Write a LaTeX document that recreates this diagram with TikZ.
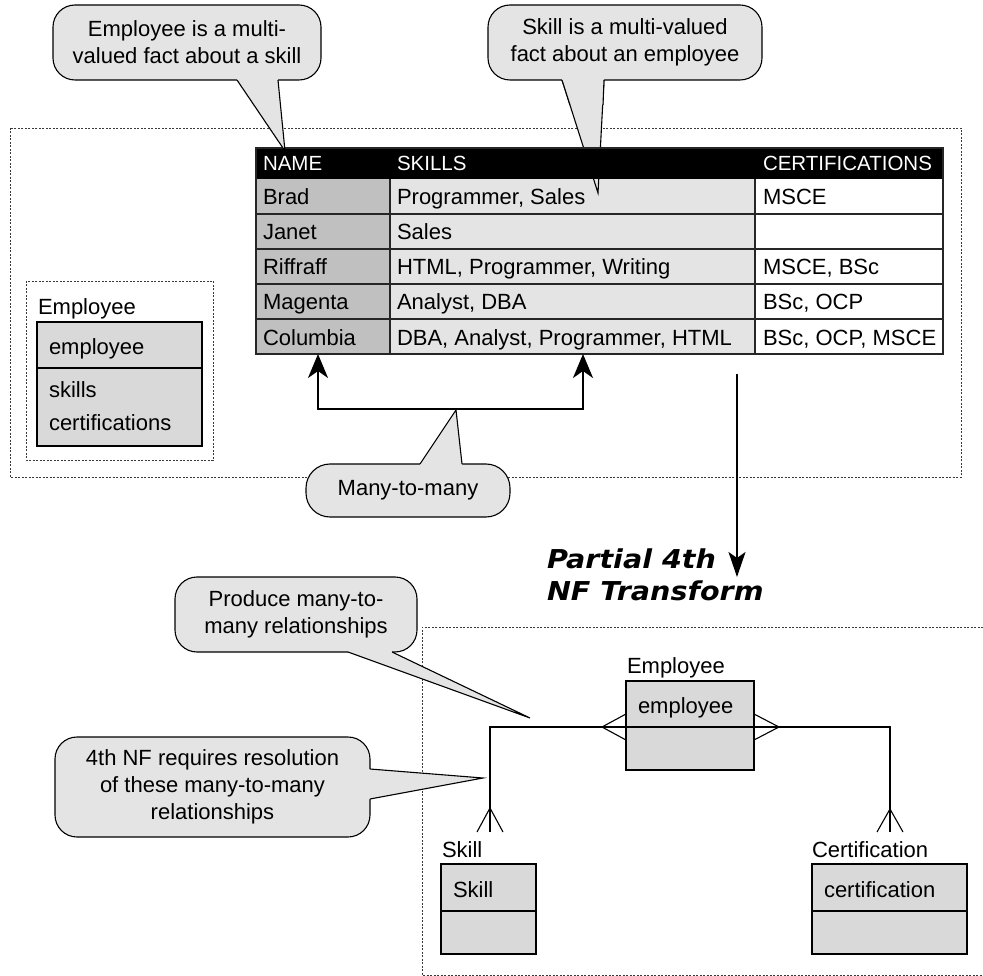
\documentclass[tikz,border=0pt]{standalone}
\usepackage{fontspec}
\setmainfont{Liberation Sans}
\newfontfamily\titlefont{DejaVu Sans}
\usetikzlibrary{arrows.meta}
\definecolor{callfill}{HTML}{E4E4E4}
\definecolor{namefill}{HTML}{C0C0C0}
\definecolor{erfill}{HTML}{D9D9D9}
\definecolor{dotc}{HTML}{3A3A3A}
\begin{document}
\begin{tikzpicture}[x=1pt,y=-1pt,
  every node/.style={font=\fontsize{22}{27}\selectfont, inner sep=0pt, outer sep=0pt},
  callout/.style={draw, line width=1.1pt, fill=callfill, rounded corners=22pt, align=center},
  tailfill/.style={fill=callfill},
  tailline/.style={draw, line width=1.1pt, line join=miter},
  dotbox/.style={draw=dotc, line width=0.9pt, dash pattern=on 2pt off 1.5pt},
  grid/.style={draw=black!85, line width=1.3pt},
  txt/.style={anchor=base west},
  hdr/.style={anchor=base west, text=white, font=\fontsize{20.5}{24}\selectfont},
  erbox/.style={draw, line width=1.3pt, fill=erfill, anchor=north west},
  rel/.style={line width=1.1pt, line join=miter},
  bigarrow/.style={line width=2.2pt, {Stealth[length=24pt,width=20pt,inset=7pt]}-{Stealth[length=24pt,width=20pt,inset=7pt]}},
  downarrow/.style={line width=1.6pt, -{Stealth[length=25pt,width=17pt,inset=6pt]}},
  titletext/.style={anchor=base west, font=\titlefont\bfseries\itshape\fontsize{26}{32}\selectfont},
]
\useasboundingbox (0,0) rectangle (983,976);
\fill[white] (0,0) rectangle (983,976);

% ---------- dotted frames ----------
\draw[dotbox] (10,128) rectangle (961,477);
\draw[dotbox] (26,281) rectangle (213,460);
\draw[dotbox] (983,627) -- (422,627) -- (422,975) -- (983,975);

% ---------- left Employee entity ----------
\node[txt] (empLbl1) at (38,315) {Employee};
\node[erbox, minimum width=165pt, minimum height=46pt] (empKey1) at (37,322) {};
\node[erbox, minimum width=165pt, minimum height=78pt] (empAttr1) at (37,368) {};
\node[txt] (empK1) at (49,355) {employee};
\node[txt] (empA1) at (49,398) {skills};
\node[txt] (empA2) at (49,430) {certifications};

% ---------- table body ----------
\fill[namefill] (256,179) rectangle (390,354);
\fill[callfill] (390,179) rectangle (755,354);
\fill[white] (755,179) rectangle (943,354);
\foreach \yy in {214,249,284,319} { \draw[grid] (256,\yy) -- (943,\yy); }
\draw[grid] (390,179) -- (390,354);
\draw[grid] (755,179) -- (755,354);
\foreach \nm/\sk/\ce [count=\i] in {Brad/{Programmer, Sales}/MSCE, Janet/Sales/{}, Riffraff/{HTML, Programmer, Writing}/{MSCE, BSc}, Magenta/{Analyst, DBA}/{BSc, OCP}, Columbia/{DBA, Analyst, Programmer, HTML}/{BSc, OCP, MSCE}} {
  \pgfmathsetmacro\bl{179+35*(\i-1)+26}
  \node[txt] (nm\i) at (263,\bl) {\nm};
  \node[txt] (sk\i) at (397,\bl) {\sk};
  \node[txt] (ce\i) at (763,\bl) {\ce};
}

% tail of callout 2 (behind header)
\fill[tailfill] (562,77) -- (562,80) -- (598,193) -- (604,80) -- (604,77) -- cycle;
\draw[tailline] (562,80) -- (598,193) -- (604,80);

% header
\fill[black] (256,148) rectangle (943,179);
\node[hdr] (hName) at (263,171) {NAME};
\node[hdr] (hSkills) at (397,171) {SKILLS};
\node[hdr] (hCert) at (763,171) {CERTIFICATIONS};
\draw[grid] (256,148) rectangle (943,354);

% ---------- callouts top ----------
\node[callout, minimum width=268pt, minimum height=75pt] (co1) at (187,42.5) {Employee is a multi-\\valued fact about a skill};
\fill[tailfill] (237,77) -- (237,80) -- (285,151) -- (278,80) -- (278,77) -- cycle;
\draw[tailline] (237,80) -- (285,151) -- (278,80);

\node[callout, minimum width=274pt, minimum height=75pt] (co2) at (625,42.5) {Skill is a multi-valued\\fact about an employee};
\fill[tailfill] (562,77) -- (562,80) -- (570,105) -- (603,105) -- (604,80) -- (604,77) -- cycle;
\draw[tailline] (562,80) -- (570,105);
\draw[tailline] (604,80) -- (603,105);

% ---------- many-to-many arrows ----------
\coordinate (tipL) at (318,354);
\coordinate (tipR) at (583,354);
\coordinate (cornL) at (318,409);
\coordinate (cornR) at (583,409);
\draw[bigarrow] (tipL) -- (cornL) -- (cornR) -- (tipR);

\node[callout, rounded corners=24pt, minimum width=204pt, minimum height=53pt] (co3) at (408,490.5) {Many-to-many};
\fill[tailfill] (420,467) -- (420,464) -- (456,410) -- (462,464) -- (462,467) -- cycle;
\draw[tailline] (420,464) -- (456,410) -- (462,464);

% ---------- transform arrow and title ----------
\coordinate (trStart) at (737,374);
\coordinate (trEnd) at (737,577);
\draw[downarrow] (trStart) -- (trEnd);
\node[titletext] (t1) at (547,568) {\scalebox{1.1}[1]{Partial 4th}};
\node[titletext] (t2) at (547,600) {\scalebox{1.1}[1]{NF Transform}};

% ---------- bottom ER diagram ----------
\node[txt] (empLbl2) at (627,673) {Employee};
\node[erbox, minimum width=128pt, minimum height=46pt] (empTop) at (626,681) {};
\node[erbox, minimum width=128pt, minimum height=43pt] (empBot) at (626,727) {};
\node[txt] (empK2) at (638,713) {employee};

\node[txt] (skLbl) at (442,857) {Skill};
\node[erbox, minimum width=95pt, minimum height=47pt] (skTop) at (441,864) {};
\node[erbox, minimum width=95pt, minimum height=43pt] (skBot) at (441,911) {};
\node[txt] (skK) at (453,897) {Skill};

\node[txt] (ctLbl) at (812,857) {Certification};
\node[erbox, minimum width=155pt, minimum height=47pt] (ctTop) at (812,864) {};
\node[erbox, minimum width=155pt, minimum height=43pt] (ctBot) at (812,911) {};
\node[txt] (ctK) at (824,897) {certification};

\coordinate (skEnd) at (490,832);
\coordinate (ctEnd) at (890,832);
\coordinate (empL) at (626,727);
\coordinate (empR) at (754,727);
\draw[rel] (skEnd) |- (empL) -- (empR) -| (ctEnd);
% crow's feet at Employee
\draw[rel] (empL) ++(0,-13) -- ++(-24,13) -- ++(24,13);
\draw[rel] (empR) ++(0,-13) -- ++(25,13) -- ++(-25,13);
% crow's feet at Skill and Certification
\draw[rel] (skEnd) ++(-13,0) -- ++(13,-24) -- ++(13,24);
\draw[rel] (ctEnd) ++(-13,0) -- ++(13,-23) -- ++(13,23);

% ---------- bottom callouts ----------
\node[callout, minimum width=242pt, minimum height=75pt] (co4) at (296,614.5) {Produce many-to-\\many relationships};
\fill[tailfill] (348,649) -- (348,652) -- (530,718) -- (392,652) -- (392,649) -- cycle;
\draw[tailline] (348,652) -- (530,718) -- (392,652);

\node[callout, minimum width=315pt, minimum height=100pt] (co5) at (212.5,787) {4th NF requires resolution\\of these many-to-many\\relationships};
\fill[tailfill] (367,769) -- (370,769) -- (483,778) -- (370,799) -- (367,799) -- cycle;
\draw[tailline] (370,769) -- (483,778) -- (370,799);
\end{tikzpicture}
\end{document}
